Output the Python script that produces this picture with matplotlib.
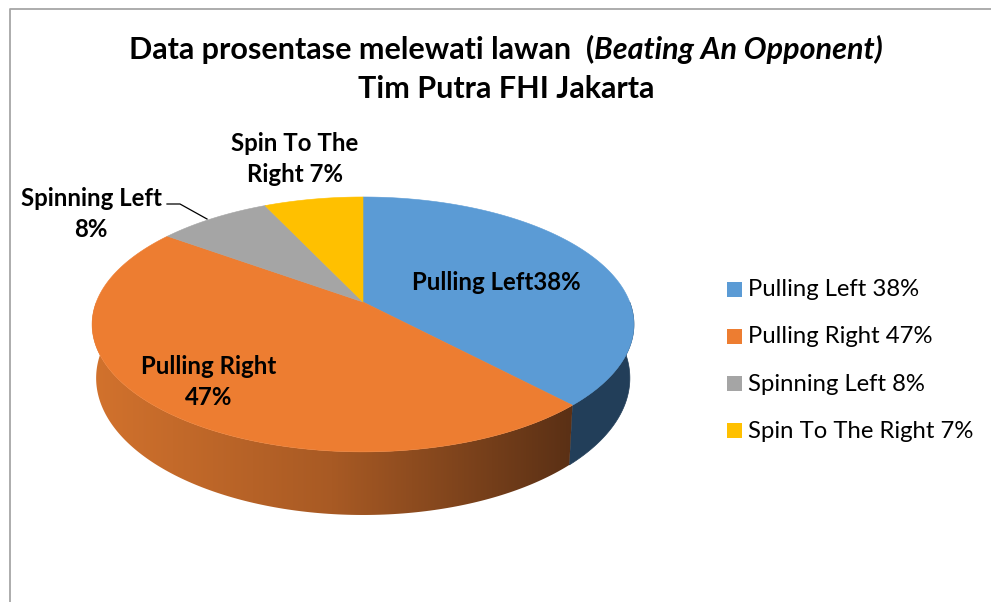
import numpy as np
import matplotlib
matplotlib.use('Agg')
import matplotlib.pyplot as plt
from matplotlib.patches import Polygon, Rectangle
from matplotlib.colors import LinearSegmentedColormap

# data
labels = ['Pulling Left', 'Pulling Right', 'Spinning Left', 'Spin To The Right']
values = [38, 47, 8, 7]
colors = ['#5B9BD5', '#ED7D31', '#A5A5A5', '#FFC000']
slice_texts = ['Pulling Left38%', 'Pulling Right\n47%', 'Spinning Left\n8%', 'Spin To The\nRight 7%']

plt.rcParams['font.family'] = ['Lato', 'DejaVu Sans']

fig = plt.figure(figsize=(9.91, 6.02), dpi=100)
ax = fig.add_axes([0, 0, 1, 1])
ax.set_xlim(0, 991)
ax.set_ylim(602, 0)
ax.axis('off')

# chart border (left + top visible)
ax.plot([10, 10, 991], [602, 9, 9], color='#A6A6A6', lw=1.3)

# pie geometry in pixel space, simple perspective (front looks bigger)
cx, cy = 363, 302
A, B, p = 123.5, 266.7, 0.176
depth0 = 52


def arc(a0, a1, n=160, bottom=False):
    t = np.radians(np.linspace(a0, a1, n))
    u, v = np.cos(t), np.sin(t)
    s = 1 + p * v
    x = B * u / s
    y = cy - A * v / s
    if bottom:
        x = x * 0.985
        y = y + depth0 / s
    return cx + x, y


total = sum(values)
cum = np.concatenate([[0], np.cumsum(values)])
theta1 = 90 - cum[:-1] / total * 360
theta2 = 90 - cum[1:] / total * 360

side_cmap = LinearSegmentedColormap.from_list('side', ['#D2722D', '#A85A24', '#5A3015'])

# side walls (front half only)
for i in range(len(values)):
    lo, hi = theta2[i], theta1[i]
    for k in (-2, -1, 0):
        f0, f1 = -180 + 360 * k, 360 * k
        a0, a1 = max(lo, f0), min(hi, f1)
        if a1 <= a0:
            continue
        xs, ys = arc(a0, a1)
        xb, yb = arc(a0, a1, bottom=True)
        px = np.concatenate([xs, xb[::-1]])
        py = np.concatenate([ys, yb[::-1]])
        if i == 1:
            poly = Polygon(np.column_stack([px, py]), closed=True, facecolor='none',
                           edgecolor='none')
            ax.add_patch(poly)
            grad = np.linspace(0, 1, 256).reshape(1, -1)
            im = ax.imshow(grad, cmap=side_cmap, aspect='auto',
                           extent=[px.min(), px.max(), py.max(), py.min()], zorder=1)
            im.set_clip_path(poly)
        else:
            ax.add_patch(Polygon(np.column_stack([px, py]), closed=True,
                                 facecolor='#223E59', edgecolor='#223E59', lw=0.5, zorder=1))

# top faces
for i in range(len(values)):
    xs, ys = arc(theta1[i], theta2[i])
    px = np.concatenate([[cx], xs])
    py = np.concatenate([[cy], ys])
    ax.add_patch(Polygon(np.column_stack([px, py]), closed=True,
                         facecolor=colors[i], edgecolor=colors[i], lw=0.4, zorder=2))

# slice labels
label_pos = [(496, 282), (209, 382), (91, 214), (295, 159)]
for txt, (x, y) in zip(slice_texts, label_pos):
    ax.text(x, y, txt, ha='center', va='center', fontsize=17.3, fontweight='bold',
            linespacing=1.4, zorder=5)
ax.plot([167, 180, 207], [204, 204, 219], color='black', lw=0.9, zorder=5)

# legend
for i, (lab, val) in enumerate(zip(labels, values)):
    y = 289 + i * 47.3
    ax.add_patch(Rectangle((727, y - 7.5), 15, 15, facecolor=colors[i], edgecolor='none'))
    ax.text(748, y + 7, f'{lab} {val}%', ha='left', va='baseline', fontsize=17.2)

# title with italic part
fig.canvas.draw()
r = fig.canvas.get_renderer()
part1 = 'Data prosentase melewati lawan  ('
part2 = 'Beating An Opponent)'
t1 = ax.text(0, 59, part1, fontsize=22, fontweight='bold', va='baseline')
t2 = ax.text(0, 59, part2, fontsize=22, fontweight='bold', style='italic', va='baseline')
w1 = t1.get_window_extent(r).width
w2 = t2.get_window_extent(r).width
x0 = 506 - (w1 + w2) / 2
t1.set_x(x0)
t2.set_x(x0 + w1)
ax.text(506, 98, 'Tim Putra FHI Jakarta', fontsize=22, fontweight='bold',
        ha='center', va='baseline')

fig.savefig('out.png', dpi=100)
